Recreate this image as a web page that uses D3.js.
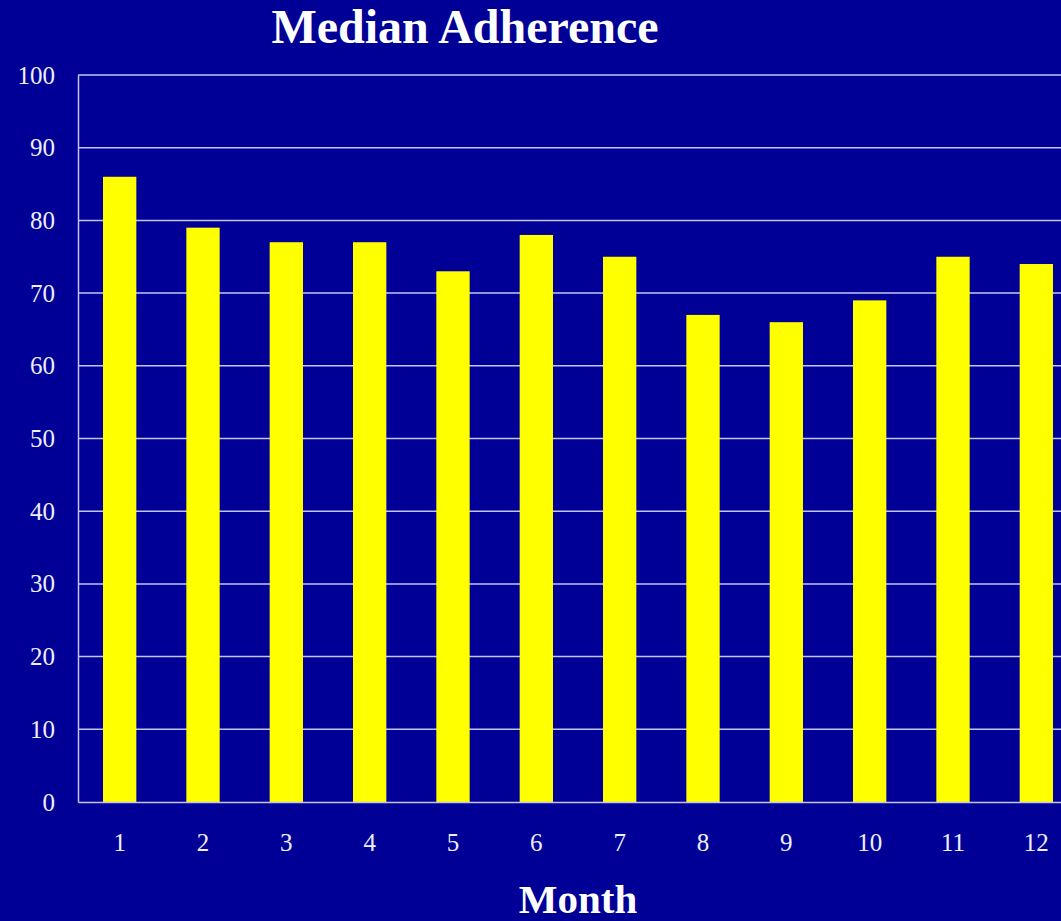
<!DOCTYPE html>
<html><head><meta charset="utf-8">
<script src="https://cdn.jsdelivr.net/npm/d3@7"></script>
<style>html,body{margin:0;padding:0;background:#000096;overflow:hidden}</style>
</head><body>
<script>
const months = ["1","2","3","4","5","6","7","8","9","10","11","12"];
const adherence = [86, 79, 77, 77, 73, 78, 75, 67, 66, 69, 75, 74];
const yTicks = [0,10,20,30,40,50,60,70,80,90,100];
const titleText = "Median Adherence";
const xTitle = "Month";

(function () {
const W = 1061, H = 921;
const svg = d3.select("body").append("svg").attr("width", W).attr("height", H);
svg.append("rect").attr("width", W).attr("height", H).attr("fill", "#000096");

const mLeft = 78, mRight = 1078, mTop = 75, mBottom = 802;
const x = d3.scaleBand().domain(months).range([mLeft, mRight]).paddingInner(0.6).paddingOuter(0.3);
const y = d3.scaleLinear().domain([0, 100]).range([mBottom, mTop]);

const gridColor = "#c4c4ee";
const font = "'Liberation Serif','Times New Roman',serif";

svg.append("g").selectAll("line").data(yTicks.filter(d => d > 0)).join("line")
  .attr("x1", mLeft).attr("x2", mRight)
  .attr("y1", d => y(d)).attr("y2", d => y(d))
  .attr("stroke", gridColor).attr("stroke-width", 1.5);

svg.append("g").selectAll("rect").data(adherence).join("rect")
  .attr("x", (d, i) => x(months[i]))
  .attr("width", x.bandwidth())
  .attr("y", d => y(d))
  .attr("height", d => y(0) - y(d))
  .attr("fill", "#ffff00");

const yAxis = svg.append("g").attr("transform", `translate(${mLeft},0)`)
  .call(d3.axisLeft(y).tickValues(yTicks).tickSize(0).tickPadding(23));
yAxis.select(".domain").attr("stroke", gridColor).attr("stroke-width", 1.5);
yAxis.selectAll("text").attr("fill", "#eeeeff").style("font-family", font).style("font-size", "25px");

const xAxis = svg.append("g").attr("transform", `translate(0,${mBottom})`)
  .call(d3.axisBottom(x).tickSize(0).tickPadding(31));
xAxis.select(".domain").attr("stroke", gridColor).attr("stroke-width", 1.5);
xAxis.selectAll("text").attr("fill", "#eeeeff").style("font-family", font).style("font-size", "25px");

svg.append("text").attr("x", 465).attr("y", 43).attr("text-anchor", "middle")
  .attr("fill", "#ffffff").style("font-family", font).style("font-weight", "bold").style("font-size", "48px")
  .text(titleText);
svg.append("text").attr("x", 578).attr("y", 913).attr("text-anchor", "middle")
  .attr("fill", "#ffffff").style("font-family", font).style("font-weight", "bold").style("font-size", "41px")
  .text(xTitle);
})();
</script>
</body></html>
